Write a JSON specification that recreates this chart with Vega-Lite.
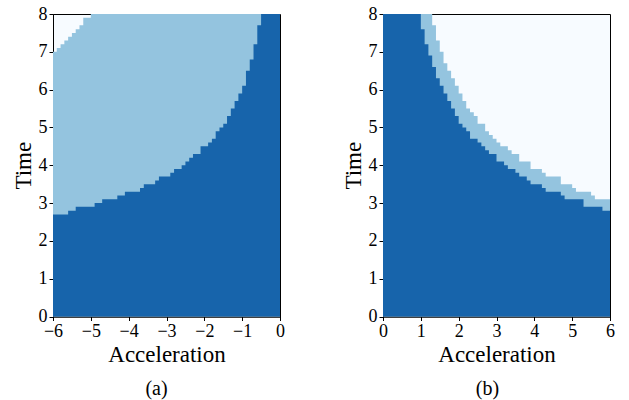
{
  "$schema": "https://vega.github.io/schema/vega-lite/v6.json",
  "padding": {"left": 11, "top": 4, "right": 5, "bottom": 5},
  "background": "white",
  "spacing": 103,
  "bounds": "flush",
  "datasets": {
    "a": [
      {"acceleration": -6.0, "dark": 2.7, "light": 7.0},
      {"acceleration": -5.9, "dark": 2.7, "light": 7.1},
      {"acceleration": -5.8, "dark": 2.7, "light": 7.2},
      {"acceleration": -5.7, "dark": 2.7, "light": 7.3},
      {"acceleration": -5.6, "dark": 2.8, "light": 7.4},
      {"acceleration": -5.5, "dark": 2.8, "light": 7.5},
      {"acceleration": -5.4, "dark": 2.9, "light": 7.6},
      {"acceleration": -5.3, "dark": 2.9, "light": 7.7},
      {"acceleration": -5.2, "dark": 2.9, "light": 7.9},
      {"acceleration": -5.1, "dark": 2.9, "light": 7.9},
      {"acceleration": -5.0, "dark": 2.9, "light": 8},
      {"acceleration": -4.9, "dark": 3.0, "light": 8},
      {"acceleration": -4.8, "dark": 3.0, "light": 8},
      {"acceleration": -4.7, "dark": 3.1, "light": 8},
      {"acceleration": -4.6, "dark": 3.1, "light": 8},
      {"acceleration": -4.5, "dark": 3.1, "light": 8},
      {"acceleration": -4.4, "dark": 3.1, "light": 8},
      {"acceleration": -4.3, "dark": 3.2, "light": 8},
      {"acceleration": -4.2, "dark": 3.2, "light": 8},
      {"acceleration": -4.1, "dark": 3.3, "light": 8},
      {"acceleration": -4.0, "dark": 3.3, "light": 8},
      {"acceleration": -3.9, "dark": 3.3, "light": 8},
      {"acceleration": -3.8, "dark": 3.3, "light": 8},
      {"acceleration": -3.7, "dark": 3.4, "light": 8},
      {"acceleration": -3.6, "dark": 3.5, "light": 8},
      {"acceleration": -3.5, "dark": 3.5, "light": 8},
      {"acceleration": -3.4, "dark": 3.5, "light": 8},
      {"acceleration": -3.3, "dark": 3.6, "light": 8},
      {"acceleration": -3.2, "dark": 3.7, "light": 8},
      {"acceleration": -3.1, "dark": 3.7, "light": 8},
      {"acceleration": -3.0, "dark": 3.7, "light": 8},
      {"acceleration": -2.9, "dark": 3.8, "light": 8},
      {"acceleration": -2.8, "dark": 3.9, "light": 8},
      {"acceleration": -2.7, "dark": 3.9, "light": 8},
      {"acceleration": -2.6, "dark": 4.0, "light": 8},
      {"acceleration": -2.5, "dark": 4.1, "light": 8},
      {"acceleration": -2.4, "dark": 4.2, "light": 8},
      {"acceleration": -2.3, "dark": 4.3, "light": 8},
      {"acceleration": -2.2, "dark": 4.3, "light": 8},
      {"acceleration": -2.1, "dark": 4.5, "light": 8},
      {"acceleration": -2.0, "dark": 4.5, "light": 8},
      {"acceleration": -1.9, "dark": 4.6, "light": 8},
      {"acceleration": -1.8, "dark": 4.7, "light": 8},
      {"acceleration": -1.7, "dark": 4.9, "light": 8},
      {"acceleration": -1.6, "dark": 5.0, "light": 8},
      {"acceleration": -1.5, "dark": 5.1, "light": 8},
      {"acceleration": -1.4, "dark": 5.3, "light": 8},
      {"acceleration": -1.3, "dark": 5.5, "light": 8},
      {"acceleration": -1.2, "dark": 5.7, "light": 8},
      {"acceleration": -1.1, "dark": 5.9, "light": 8},
      {"acceleration": -1.0, "dark": 6.1, "light": 8},
      {"acceleration": -0.9, "dark": 6.5, "light": 8},
      {"acceleration": -0.8, "dark": 6.8, "light": 8},
      {"acceleration": -0.7, "dark": 7.2, "light": 8},
      {"acceleration": -0.6, "dark": 7.7, "light": 8},
      {"acceleration": -0.5, "dark": 8, "light": 8},
      {"acceleration": -0.4, "dark": 8, "light": 8},
      {"acceleration": -0.3, "dark": 8, "light": 8},
      {"acceleration": -0.2, "dark": 8, "light": 8},
      {"acceleration": -0.1, "dark": 8, "light": 8},
      {"acceleration": 0.0, "dark": 8, "light": 8}
    ],
    "b": [
      {"acceleration": 0.0, "dark": 8, "light": 8},
      {"acceleration": 0.1, "dark": 8, "light": 8},
      {"acceleration": 0.2, "dark": 8, "light": 8},
      {"acceleration": 0.3, "dark": 8, "light": 8},
      {"acceleration": 0.4, "dark": 8, "light": 8},
      {"acceleration": 0.5, "dark": 8, "light": 8},
      {"acceleration": 0.6, "dark": 8, "light": 8},
      {"acceleration": 0.7, "dark": 8, "light": 8},
      {"acceleration": 0.8, "dark": 8, "light": 8},
      {"acceleration": 0.9, "dark": 8, "light": 8},
      {"acceleration": 1.0, "dark": 7.6, "light": 8},
      {"acceleration": 1.1, "dark": 7.2, "light": 8},
      {"acceleration": 1.2, "dark": 6.9, "light": 8},
      {"acceleration": 1.3, "dark": 6.6, "light": 7.7},
      {"acceleration": 1.4, "dark": 6.3, "light": 7.3},
      {"acceleration": 1.5, "dark": 6.1, "light": 7.0},
      {"acceleration": 1.6, "dark": 5.9, "light": 6.7},
      {"acceleration": 1.7, "dark": 5.7, "light": 6.5},
      {"acceleration": 1.8, "dark": 5.5, "light": 6.3},
      {"acceleration": 1.9, "dark": 5.3, "light": 6.1},
      {"acceleration": 2.0, "dark": 5.1, "light": 5.9},
      {"acceleration": 2.1, "dark": 5.0, "light": 5.7},
      {"acceleration": 2.2, "dark": 4.9, "light": 5.5},
      {"acceleration": 2.3, "dark": 4.7, "light": 5.4},
      {"acceleration": 2.4, "dark": 4.7, "light": 5.3},
      {"acceleration": 2.5, "dark": 4.6, "light": 5.1},
      {"acceleration": 2.6, "dark": 4.5, "light": 5.1},
      {"acceleration": 2.7, "dark": 4.4, "light": 4.9},
      {"acceleration": 2.8, "dark": 4.3, "light": 4.8},
      {"acceleration": 2.9, "dark": 4.3, "light": 4.7},
      {"acceleration": 3.0, "dark": 4.1, "light": 4.6},
      {"acceleration": 3.1, "dark": 4.1, "light": 4.5},
      {"acceleration": 3.2, "dark": 4.0, "light": 4.5},
      {"acceleration": 3.3, "dark": 3.9, "light": 4.4},
      {"acceleration": 3.4, "dark": 3.9, "light": 4.3},
      {"acceleration": 3.5, "dark": 3.8, "light": 4.3},
      {"acceleration": 3.6, "dark": 3.7, "light": 4.1},
      {"acceleration": 3.7, "dark": 3.7, "light": 4.1},
      {"acceleration": 3.8, "dark": 3.6, "light": 4.1},
      {"acceleration": 3.9, "dark": 3.5, "light": 3.9},
      {"acceleration": 4.0, "dark": 3.5, "light": 3.9},
      {"acceleration": 4.1, "dark": 3.5, "light": 3.9},
      {"acceleration": 4.2, "dark": 3.4, "light": 3.8},
      {"acceleration": 4.3, "dark": 3.3, "light": 3.7},
      {"acceleration": 4.4, "dark": 3.3, "light": 3.7},
      {"acceleration": 4.5, "dark": 3.3, "light": 3.7},
      {"acceleration": 4.6, "dark": 3.3, "light": 3.7},
      {"acceleration": 4.7, "dark": 3.2, "light": 3.5},
      {"acceleration": 4.8, "dark": 3.1, "light": 3.5},
      {"acceleration": 4.9, "dark": 3.1, "light": 3.5},
      {"acceleration": 5.0, "dark": 3.1, "light": 3.4},
      {"acceleration": 5.1, "dark": 3.1, "light": 3.3},
      {"acceleration": 5.2, "dark": 3.1, "light": 3.3},
      {"acceleration": 5.3, "dark": 2.9, "light": 3.3},
      {"acceleration": 5.4, "dark": 2.9, "light": 3.3},
      {"acceleration": 5.5, "dark": 2.9, "light": 3.2},
      {"acceleration": 5.6, "dark": 2.9, "light": 3.1},
      {"acceleration": 5.7, "dark": 2.9, "light": 3.1},
      {"acceleration": 5.8, "dark": 2.8, "light": 3.1},
      {"acceleration": 5.9, "dark": 2.8, "light": 3.1},
      {"acceleration": 6.0, "dark": 2.8, "light": 3.1}
    ]
  },
  "hconcat": [
    {
      "width": 227,
      "height": 302.5,
      "data": {"name": "a"},
      "title": {"text": "(a)", "orient": "bottom", "anchor": "middle", "dx": -10, "offset": 12},
      "encoding": {
        "x": {"field": "acceleration", "type": "quantitative", "scale": {"domain": [-6, 0], "nice": false, "zero": false}, "axis": {"values": [-6, -5, -4, -3, -2, -1, 0], "title": "Acceleration"}}
      },
      "layer": [
        {"mark": {"type": "area", "interpolate": "step-after", "color": "#94c4df"},
         "encoding": {"y": {"field": "light", "type": "quantitative", "scale": {"domain": [0, 8], "nice": false}, "axis": {"values": [0, 1, 2, 3, 4, 5, 6, 7, 8], "title": "Time"}}}},
        {"mark": {"type": "area", "interpolate": "step-after", "color": "#1764ab"},
         "encoding": {"y": {"field": "dark", "type": "quantitative", "axis": {"values": [0, 1, 2, 3, 4, 5, 6, 7, 8], "title": "Time"}}}}
      ]
    },
    {
      "width": 227,
      "height": 302.5,
      "data": {"name": "b"},
      "title": {"text": "(b)", "orient": "bottom", "anchor": "middle", "dx": -9, "offset": 12},
      "encoding": {
        "x": {"field": "acceleration", "type": "quantitative", "scale": {"domain": [0, 6], "nice": false, "zero": false}, "axis": {"values": [0, 1, 2, 3, 4, 5, 6], "title": "Acceleration"}}
      },
      "layer": [
        {"mark": {"type": "area", "interpolate": "step-after", "color": "#94c4df"},
         "encoding": {"y": {"field": "light", "type": "quantitative", "scale": {"domain": [0, 8], "nice": false}, "axis": {"values": [0, 1, 2, 3, 4, 5, 6, 7, 8], "title": "Time"}}}},
        {"mark": {"type": "area", "interpolate": "step-after", "color": "#1764ab"},
         "encoding": {"y": {"field": "dark", "type": "quantitative", "axis": {"values": [0, 1, 2, 3, 4, 5, 6, 7, 8], "title": "Time"}}}}
      ]
    }
  ],
  "config": {
    "view": {"stroke": "black", "strokeWidth": 1, "fill": "#f7fbff"},
    "font": "Liberation Serif",
    "title": {"font": "Liberation Serif", "fontSize": 20, "fontWeight": "normal", "color": "black"},
    "axis": {
      "grid": false,
      "labelFont": "Liberation Serif",
      "labelFontSize": 18,
      "labelColor": "black",
      "labelPadding": 2,
      "labelFlush": false,
      "labelOverlap": false,
      "labelBound": false,
      "titleFont": "Liberation Serif",
      "titleFontSize": 23,
      "titleFontWeight": "normal",
      "titleColor": "black",
      "titlePadding": 3,
      "tickSize": 4,
      "tickColor": "black",
      "tickWidth": 1,
      "domainColor": "black",
      "domainWidth": 1
    }
  }
}
